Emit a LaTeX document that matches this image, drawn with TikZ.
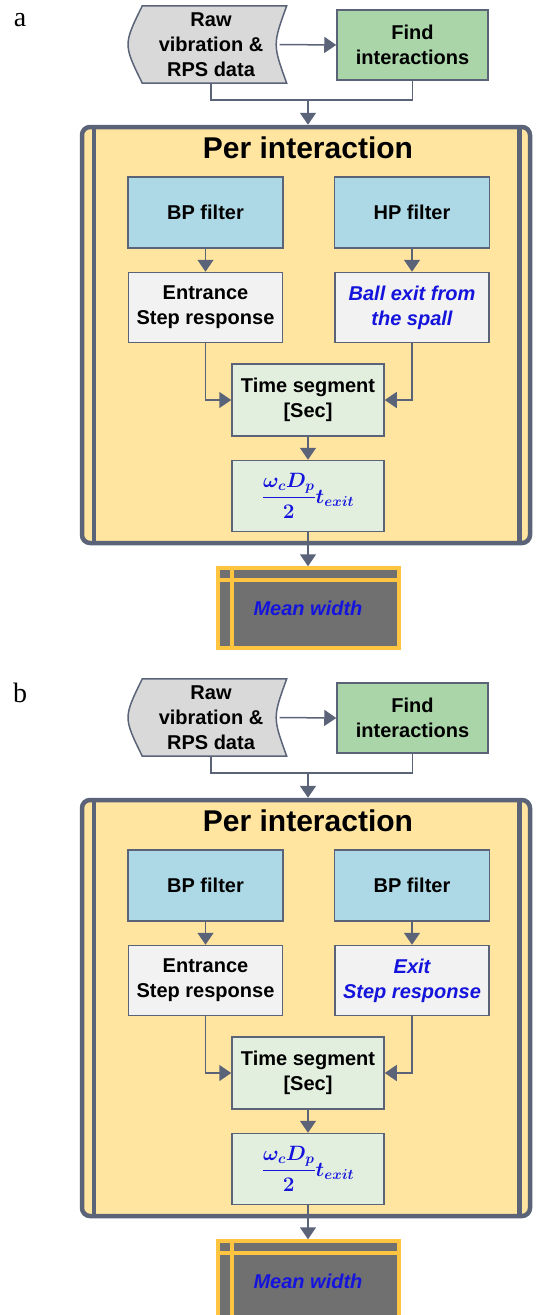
\documentclass[tikz,border=0pt]{standalone}
\usepackage{fontspec}
\setmainfont{Liberation Sans}
\newfontfamily\labelfont{Liberation Serif}
\usepackage{amsmath}
\usepackage{tikz}
\usetikzlibrary{positioning}
\usetikzlibrary{arrows.meta}
\usetikzlibrary{backgrounds}
\definecolor{linegray}{RGB}{90,99,120}
\definecolor{rawgray}{RGB}{217,217,217}
\definecolor{findgreen}{RGB}{169,213,169}
\definecolor{framefill}{RGB}{255,229,160}
\definecolor{filterblue}{RGB}{173,216,230}
\definecolor{stepgray}{RGB}{242,242,242}
\definecolor{segmentgreen}{RGB}{226,239,222}
\definecolor{meanorange}{RGB}{255,196,64}
\definecolor{meanfill}{RGB}{112,112,112}
\definecolor{textblue}{RGB}{20,20,220}
\newcommand{\exitwidth}{{\color{textblue}\fontsize{21}{25}\selectfont\boldmath$\dfrac{\omega_c D_p}{2} t_{exit}$}}
\tikzset{
box/.style={rectangle, draw=linegray, line width=1.5pt, align=center, inner sep=0pt, font=\fontsize{20}{25}\selectfont\bfseries},
raw_box/.style={rectangle, align=center, inner sep=0pt, minimum width=157pt, minimum height=77pt, font=\fontsize{20}{25}\selectfont\bfseries},
find_box/.style={box, fill=findgreen, minimum width=151pt, minimum height=70pt},
filter_box/.style={box, fill=filterblue, minimum width=155pt, minimum height=71pt},
step_box/.style={box, fill=stepgray, minimum width=154pt, minimum height=70pt},
segment_box/.style={box, fill=segmentgreen, minimum width=152pt, minimum height=72pt},
blue_text/.style={text=textblue, font=\fontsize{20}{25}\selectfont\bfseries\itshape},
frame_box/.style={rectangle, rounded corners=8pt, draw=linegray, line width=4.5pt, fill=framefill, minimum width=448pt, minimum height=416pt},
frame_bar/.style={draw=linegray, line width=4.5pt},
title/.style={font=\fontsize{30}{36}\selectfont\bfseries, inner sep=0pt},
mean_box/.style={rectangle, draw=meanorange, line width=4pt, fill=meanfill, minimum width=181pt, minimum height=80pt, blue_text},
mean_bar/.style={draw=meanorange, line width=4pt},
line/.style={draw=linegray, line width=1.5pt},
flow/.style={line, -{Triangle[width=16pt,length=12pt]}},
panel_label/.style={font=\labelfont\fontsize{28}{30}\selectfont, inner sep=0pt}
}

\begin{document}
\begin{tikzpicture}[x=1pt, y=-1pt]
    \useasboundingbox (0,0) rectangle (536,1315);

    % panel a
    \node[panel_label] (label_a) at (20,20) {a};
    \node[raw_box] (raw_a) at (211,44.5) {Raw\\vibration \&\\RPS data};
    \begin{scope}[on background layer]
        \draw[line, fill=rawgray] ([xshift=10pt]raw_a.north west) -- ([xshift=-3pt]raw_a.north east)
            .. controls ([xshift=-17pt]raw_a.east) .. ([xshift=-3pt]raw_a.south east)
            -- ([xshift=10pt]raw_a.south west)
            .. controls ([xshift=-9pt]raw_a.west) .. cycle;
    \end{scope}
    \node[find_box] (find_a) at (412.5,45) {Find\\interactions};
    \draw[flow] ([xshift=-10pt]raw_a.east) -- (find_a.west);
    \coordinate (merge_a) at (308,100);
    \draw[line] (raw_a.south) |- (merge_a) -| (find_a.south);

    \node[frame_box] (frame_a) at (306,335) {};
    \draw[frame_bar] ([xshift=14pt]frame_a.north west) -- ([xshift=14pt]frame_a.south west);
    \draw[frame_bar] ([xshift=-13pt]frame_a.north east) -- ([xshift=-13pt]frame_a.south east);
    \draw[flow] (merge_a) -- (merge_a |- frame_a.north);
    \node[title] (title_a) at (308,148) {Per interaction};

    \node[filter_box] (bp_a) at (205.5,212.5) {BP filter};
    \node[filter_box] (hp_a) at (412,212.5) {HP filter};
    \node[step_box] (entrance_a) [below=23pt of bp_a] {Entrance\\Step response};
    \node[step_box, blue_text] (exit_a) [below=23pt of hp_a] {Ball exit from\\the spall};
    \node[segment_box] (segment_a) at (308,400) {Time segment\\{[}Sec{]}};
    \node[segment_box, minimum height=71pt] (width_a) [below=23pt of segment_a] {\exitwidth};
    \draw[flow] (bp_a) -- (entrance_a);
    \draw[flow] (hp_a) -- (exit_a);
    \draw[flow] (entrance_a.south) |- (segment_a.west);
    \draw[flow] (exit_a.south) |- (segment_a.east);
    \draw[flow] (segment_a) -- (width_a);

    \node[mean_box] (mean_a) [below=34pt of width_a] {Mean width};
    \draw[mean_bar] ([xshift=16pt]mean_a.north west) -- ([xshift=16pt]mean_a.south west);
    \draw[mean_bar] ([yshift=-14pt]mean_a.north west) -- ([yshift=-14pt]mean_a.north east);
    \draw[flow] (width_a) -- (mean_a);

    % panel b
    \begin{scope}[yshift=-673pt]
    \node[panel_label] (label_b) at (20,20) {b};
    \node[raw_box] (raw_b) at (211,44.5) {Raw\\vibration \&\\RPS data};
    \begin{scope}[on background layer]
        \draw[line, fill=rawgray] ([xshift=10pt]raw_b.north west) -- ([xshift=-3pt]raw_b.north east)
            .. controls ([xshift=-17pt]raw_b.east) .. ([xshift=-3pt]raw_b.south east)
            -- ([xshift=10pt]raw_b.south west)
            .. controls ([xshift=-9pt]raw_b.west) .. cycle;
    \end{scope}
    \node[find_box] (find_b) at (412.5,45) {Find\\interactions};
    \draw[flow] ([xshift=-10pt]raw_b.east) -- (find_b.west);
    \coordinate (merge_b) at (308,100);
    \draw[line] (raw_b.south) |- (merge_b) -| (find_b.south);

    \node[frame_box] (frame_b) at (306,335) {};
    \draw[frame_bar] ([xshift=14pt]frame_b.north west) -- ([xshift=14pt]frame_b.south west);
    \draw[frame_bar] ([xshift=-13pt]frame_b.north east) -- ([xshift=-13pt]frame_b.south east);
    \draw[flow] (merge_b) -- (merge_b |- frame_b.north);
    \node[title] (title_b) at (308,148) {Per interaction};

    \node[filter_box] (bp_b) at (205.5,212.5) {BP filter};
    \node[filter_box] (bp2_b) at (412,212.5) {BP filter};
    \node[step_box] (entrance_b) [below=23pt of bp_b] {Entrance\\Step response};
    \node[step_box, blue_text] (exit_b) [below=23pt of bp2_b] {Exit\\Step response};
    \node[segment_box] (segment_b) at (308,400) {Time segment\\{[}Sec{]}};
    \node[segment_box, minimum height=71pt] (width_b) [below=23pt of segment_b] {\exitwidth};
    \draw[flow] (bp_b) -- (entrance_b);
    \draw[flow] (bp2_b) -- (exit_b);
    \draw[flow] (entrance_b.south) |- (segment_b.west);
    \draw[flow] (exit_b.south) |- (segment_b.east);
    \draw[flow] (segment_b) -- (width_b);

    \node[mean_box] (mean_b) [below=34pt of width_b] {Mean width};
    \draw[mean_bar] ([xshift=16pt]mean_b.north west) -- ([xshift=16pt]mean_b.south west);
    \draw[mean_bar] ([yshift=-14pt]mean_b.north west) -- ([yshift=-14pt]mean_b.north east);
    \draw[flow] (width_b) -- (mean_b);
    \end{scope}
\end{tikzpicture}
\end{document}
